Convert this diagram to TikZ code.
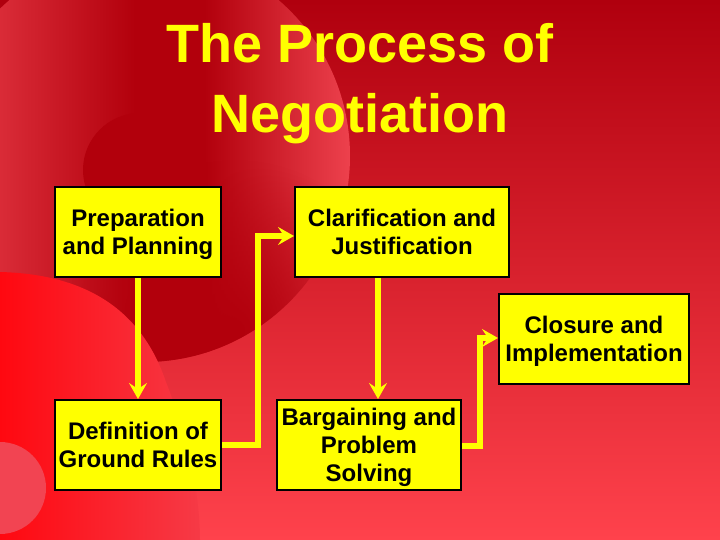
\documentclass[tikz,border=0pt]{standalone}
\usepackage{fontspec}
\setmainfont{Liberation Sans}
\usetikzlibrary{arrows.meta,calc,fadings}
\tikzfading[name=myfadeout, inner color=transparent!0, outer color=transparent!100]
\definecolor{bgtop}{RGB}{176,0,14}
\definecolor{bgbot}{RGB}{255,66,76}
\definecolor{rimc}{RGB}{238,66,78}
\definecolor{darkc}{RGB}{178,0,12}
\definecolor{brightc}{RGB}{255,8,16}
\definecolor{fadec}{RGB}{246,58,70}
\definecolor{palec}{RGB}{242,68,82}
\definecolor{yel}{RGB}{255,255,0}
\newcommand{\lstrut}{\rule[-5pt]{0pt}{26.7pt}}
\begin{document}
\begin{tikzpicture}[x=1pt,y=-1pt,
  box/.style={draw=black, line width=2pt, fill=yel, inner sep=0pt, align=center,
    font=\fontsize{24}{28}\selectfont\bfseries},
  arr/.style={draw=yel, line width=5.5pt, -{Stealth[length=16pt,width=18pt,inset=6pt]}},
  ttl/.style={text=yel, font=\fontsize{54}{70}\selectfont\bfseries, inner sep=0pt}]
\useasboundingbox (0,0) rectangle (720,540);
% background
\shade[top color=bgtop, bottom color=bgbot] (0,0) rectangle (720,540);
\begin{scope}
  \clip (144,156) circle (206pt);
  \shade[left color=rimc, right color=darkc] (-70,-60) rectangle (135,380);
  \fill[darkc] (134,-60) rectangle (205,380);
  \shade[left color=darkc, right color=rimc] (204,-60) rectangle (352,380);
  \fill[darkc, path fading=myfadeout] (235,330) circle (170pt);
\end{scope}
\fill[darkc] (140,170) circle (57pt);
\shade[left color=brightc, middle color=brightc!75!fadec, right color=fadec]
  (0,272) .. controls (80,274) and (140,305) .. (166,382)
  .. controls (185,430) and (200,490) .. (200,540) -- (0,540) -- cycle;
\fill[palec] (0,488) circle (46pt);
% title
\node[ttl, anchor=base] (t1) at (360,63) {The Process of};
\node[ttl, anchor=base] (t2) at (360,133) {Negotiation};
% boxes
\node[box, minimum width=166pt, minimum height=90pt] (prep) at (138,232) {\lstrut Preparation\\\lstrut and Planning};
\node[box, minimum width=214pt, minimum height=90pt] (clar) at (402,232) {\lstrut Clarification and\\\lstrut Justification};
\node[box, minimum width=190pt, minimum height=90pt] (clos) at (594,339) {\lstrut Closure and\\\lstrut Implementation};
\node[box, minimum width=166pt, minimum height=90pt] (defn) at (138,445) {\lstrut Definition of\\\lstrut Ground Rules};
\node[box, minimum width=184pt, minimum height=90pt] (barg) at (369,445) {\lstrut Bargaining and\\\lstrut Problem\\\lstrut Solving};
% arrows
\draw[arr] (prep.south) -- (defn.north);
\draw[arr] (defn.east) -- ++(36,0) |- ([yshift=-4pt]clar.west);
\coordinate (c3) at ([xshift=-24pt]clar.south);
\draw[arr] (c3) -- (c3 |- barg.north);
\draw[arr] ([yshift=-1pt]barg.east) -- ++(18,0) |- ([yshift=1pt]clos.west);
\end{tikzpicture}
\end{document}
